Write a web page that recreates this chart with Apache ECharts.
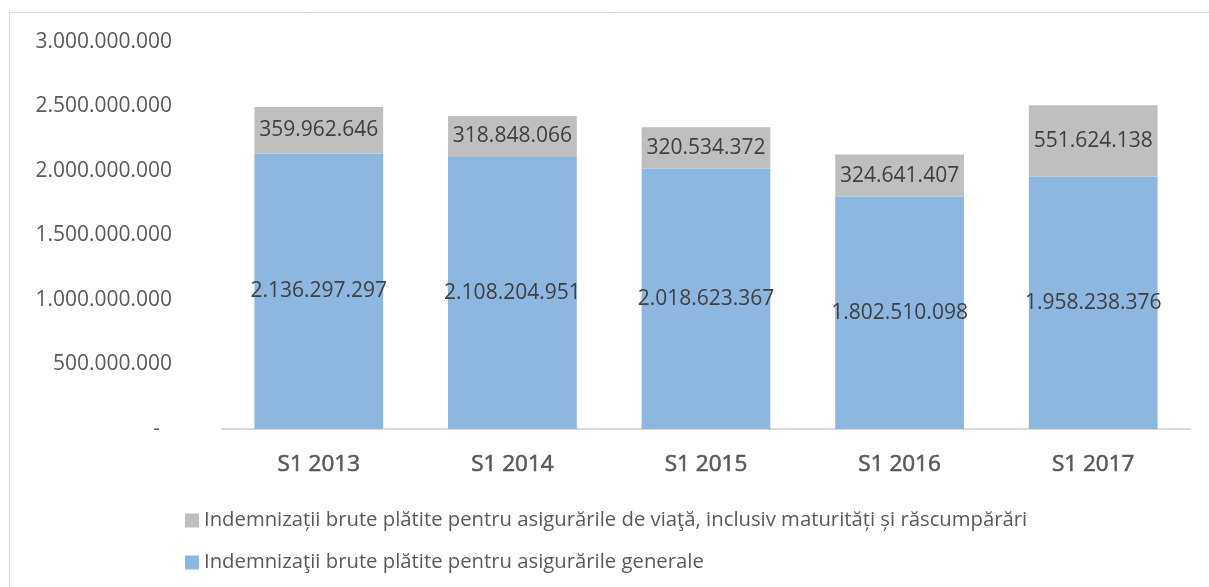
<!DOCTYPE html>
<html>
<head>
<meta charset="utf-8">
<script src="https://cdn.jsdelivr.net/npm/echarts@6/dist/echarts.min.js"></script>
<style>
html,body{margin:0;padding:0;background:#fff;}
#chart{width:1209px;height:587px;}
</style>
</head>
<body>
<div id="chart"></div>
<script>
const categories = ['S1 2013', 'S1 2014', 'S1 2015', 'S1 2016', 'S1 2017'];
const generalValues = [2136297297, 2108204951, 2018623367, 1802510098, 1958238376];
const lifeValues = [359962646, 318848066, 320534372, 324641407, 551624138];
const seriesNames = [
  'Indemnizații brute plătite pentru asigurările de viaţă, inclusiv maturități și răscumpărări',
  'Indemnizaţii brute plătite pentru asigurările generale'
];
const yTicks = { min: 0, max: 3000000000, interval: 500000000 };

function fmt(v) {
  return String(Math.round(v)).replace(/\B(?=(\d{3})+(?!\d))/g, '.');
}

const FONT = '"Open Sans", "Liberation Sans", sans-serif';
const chart = echarts.init(document.getElementById('chart'), null, { renderer: 'canvas' });

chart.setOption({
  backgroundColor: '#ffffff',
  animation: false,
  graphic: [{
    type: 'rect',
    shape: { x: 9.5, y: 12.5, width: 1250, height: 620 },
    style: { fill: 'none', stroke: '#d9d9d9', lineWidth: 1 },
    silent: true
  }],
  grid: { left: 222, right: 19, top: 42, bottom: 158, containLabel: false },
  legend: {
    orient: 'vertical',
    left: 180,
    top: 505,
    itemGap: 21,
    itemWidth: 14,
    itemHeight: 14,
    icon: 'rect',
    data: [seriesNames[0], seriesNames[1]],
    textStyle: { fontFamily: FONT, fontSize: 20.3, color: '#595959', lineHeight: 21 }
  },
  xAxis: {
    type: 'category',
    data: categories,
    axisLine: { lineStyle: { color: '#d9d9d9', width: 2 } },
    axisTick: { show: false },
    axisLabel: {
      fontFamily: FONT, fontSize: 22.5, color: '#595959', fontWeight: 'normal', margin: 24,
      textBorderColor: '#595959', textBorderWidth: 0.6
    }
  },
  yAxis: {
    type: 'value',
    min: yTicks.min,
    max: yTicks.max,
    interval: yTicks.interval,
    splitLine: { show: false },
    axisLine: { show: false },
    axisTick: { show: false },
    axisLabel: {
      fontFamily: FONT, fontSize: 21, color: '#595959', margin: 50,
      formatter: function (v) { return v === 0 ? '{d|-}' : fmt(v); },
      rich: { d: { fontFamily: FONT, fontSize: 21, color: '#595959', padding: [0, 12, 0, 0] } }
    }
  },
  series: [
    {
      name: seriesNames[1],
      type: 'bar',
      stack: 'total',
      data: generalValues,
      barWidth: '66.5%',
      itemStyle: { color: '#8cb7e0' },
      label: {
        show: true, position: 'inside', fontFamily: FONT, fontSize: 21, color: '#404040',
        formatter: function (p) { return fmt(p.value); }
      }
    },
    {
      name: seriesNames[0],
      type: 'bar',
      stack: 'total',
      data: lifeValues,
      barWidth: '66.5%',
      itemStyle: { color: '#bfbfbf' },
      label: {
        show: true, position: 'inside', fontFamily: FONT, fontSize: 21, color: '#404040',
        formatter: function (p) { return fmt(p.value); }
      }
    }
  ]
});
</script>
</body>
</html>
